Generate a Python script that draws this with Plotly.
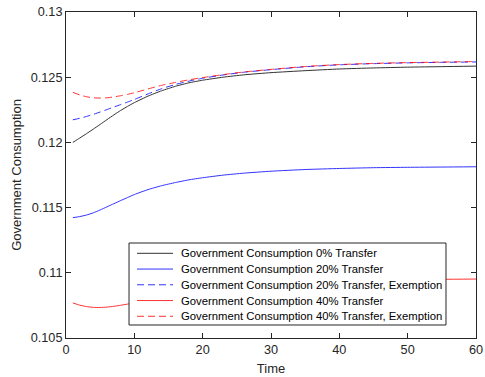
import plotly.graph_objects as go

# Time periods sampled for each path
time = [1, 2, 3, 4, 5, 6, 7, 8, 9, 10, 12, 14, 16, 18, 20, 23, 26, 30, 35, 40, 45, 50, 55, 60]

gc_0 = [0.12000, 0.12033, 0.12067, 0.12102, 0.12138, 0.12175, 0.12211, 0.12245,
        0.12276, 0.12305, 0.12355, 0.12396, 0.12430, 0.12457, 0.12477, 0.12500,
        0.12518, 0.12535, 0.12550, 0.12563, 0.12571, 0.12577, 0.12581, 0.12585]
gc_20 = [0.11423, 0.11431, 0.11443, 0.11460, 0.11482, 0.11506, 0.11530, 0.11554,
         0.11577, 0.11600, 0.11638, 0.11668, 0.11692, 0.11713, 0.11729, 0.11749,
         0.11764, 0.11779, 0.11792, 0.11800, 0.11806, 0.11809, 0.11811, 0.11813]
gc_20_ex = [0.12173, 0.12185, 0.12199, 0.12215, 0.12233, 0.12252, 0.12271, 0.12290,
            0.12309, 0.12329, 0.12372, 0.12412, 0.12444, 0.12470, 0.12492, 0.12517,
            0.12538, 0.12558, 0.12580, 0.12595, 0.12604, 0.12610, 0.12614, 0.12617]
gc_40 = [0.10769, 0.10752, 0.10741, 0.10735, 0.10734, 0.10737, 0.10743, 0.10751,
         0.10760, 0.10770, 0.10792, 0.10813, 0.10832, 0.10848, 0.10862, 0.10880,
         0.10895, 0.10911, 0.10926, 0.10936, 0.10943, 0.10947, 0.10950, 0.10952]
gc_40_ex = [0.12384, 0.12364, 0.12350, 0.12342, 0.12340, 0.12342, 0.12349, 0.12358,
            0.12368, 0.12381, 0.12410, 0.12438, 0.12460, 0.12480, 0.12497, 0.12520,
            0.12540, 0.12560, 0.12582, 0.12597, 0.12606, 0.12612, 0.12616, 0.12620]

names = [
    "Government Consumption 0% Transfer",
    "Government Consumption 20% Transfer",
    "Government Consumption 20% Transfer, Exemption",
    "Government Consumption 40% Transfer",
    "Government Consumption 40% Transfer, Exemption",
]
series = [gc_0, gc_20, gc_20_ex, gc_40, gc_40_ex]

x_ticks = [0, 10, 20, 30, 40, 50, 60]
y_ticks = [0.105, 0.11, 0.115, 0.12, 0.125, 0.13]
y_tick_text = ["0.105", "0.11", "0.115", "0.12", "0.125", "0.13"]

# Styling
colors = ["#000000", "#0000ff", "#0000ff", "#ff0000", "#ff0000"]
dashes = ["solid", "solid", "7px,4px", "solid", "7px,4px"]
FONT = "Liberation Sans, Arial, Helvetica, sans-serif"
AXC = "#262626"

fig = go.Figure()
for name, ys, c, d in zip(names, series, colors, dashes):
    fig.add_trace(go.Scatter(
        x=time, y=ys, mode="lines", name=name, showlegend=False,
        line=dict(color=c, width=1, dash=d, shape="spline", smoothing=0.5),
        opacity=0.8,
    ))

# Boxed legend in the lower part of the axes (MATLAB-style compact rows)
box = dict(x0=0.1537, x1=0.9268, y0=0.0399, y1=0.2914)
row_top = 0.2598
row_step = 0.0483
sample_x0, sample_x1, text_x = 0.1732, 0.261, 0.2756

shapes = [dict(type="rect", xref="paper", yref="paper", layer="above",
               line=dict(color=AXC, width=1), fillcolor="white", **box)]
annotations = []
for i, (name, c, d) in enumerate(zip(names, colors, dashes)):
    yy = row_top - i * row_step
    shapes.append(dict(type="line", xref="paper", yref="paper", layer="above",
                       x0=sample_x0, x1=sample_x1, y0=yy, y1=yy, opacity=0.8,
                       line=dict(color=c, width=1, dash=d)))
    annotations.append(dict(text=name, xref="paper", yref="paper", x=text_x, y=yy,
                            xanchor="left", yanchor="middle", showarrow=False,
                            font=dict(family=FONT, size=11.3, color="#000000")))

axis_common = dict(
    showline=True, linecolor=AXC, linewidth=1, mirror="ticks",
    ticks="inside", ticklen=5, tickcolor=AXC,
    showgrid=False, zeroline=False, automargin=False,
    tickfont=dict(family=FONT, size=12.7, color=AXC),
)

fig.update_layout(
    width=485, height=377,
    margin=dict(l=66, r=9, t=12, b=39),
    paper_bgcolor="white", plot_bgcolor="white",
    font=dict(family=FONT, size=12, color=AXC),
    xaxis=dict(range=[0, 60], tickvals=x_ticks, ticktext=[str(v) for v in x_ticks],
               title=dict(text="Time", standoff=7, font=dict(size=13, color=AXC)),
               **axis_common),
    yaxis=dict(range=[0.105, 0.13], tickvals=y_ticks, ticktext=y_tick_text,
               title=dict(text="Government Consumption", standoff=6,
                          font=dict(size=13, color=AXC)),
               **axis_common),
    shapes=shapes,
    annotations=annotations,
    showlegend=False,
)

fig.write_html("out.html")
